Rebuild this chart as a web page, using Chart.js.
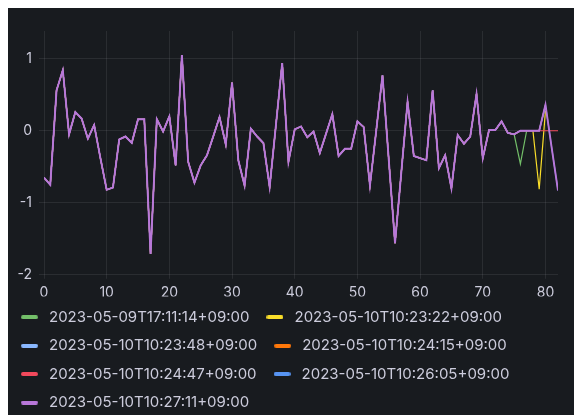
<!DOCTYPE html>
<html>
<head>
<meta charset="utf-8">
<script src="https://cdn.jsdelivr.net/npm/chart.js@4.4.0/dist/chart.umd.min.js"></script>
<style>
  html, body { margin: 0; padding: 0; background: #fff; overflow: hidden; }
  #panel { position: absolute; left: 8px; top: 8px; width: 566px; height: 407px; background: #181b1f; }
  #chart { position: absolute; left: 4px; top: 0; width: 570px; height: 420px; }
</style>
</head>
<body>
<div id="panel"></div>
<canvas id="chart" width="570" height="420"></canvas>
<script>
// x positions (sample index) and tick labels
const xValues = [0, 1, 2, 3, 4, 5, 6, 7, 8, 9, 10, 11, 12, 13, 14, 15, 16, 17, 18, 19,
    20, 21, 22, 23, 24, 25, 26, 27, 28, 29, 30, 31, 32, 33, 34, 35, 36, 37, 38, 39,
    40, 41, 42, 43, 44, 45, 46, 47, 48, 49, 50, 51, 52, 53, 54, 55, 56, 57, 58, 59,
    60, 61, 62, 63, 64, 65, 66, 67, 68, 69, 70, 71, 72, 73, 74, 75, 76, 77, 78, 79,
    80, 81, 82];
const xTicks = [0, 10, 20, 30, 40, 50, 60, 70, 80];
const yTicks = [-2, -1, 0, 1];

// values shared by every series (index 0..74)
const history = [-0.65, -0.75, 0.56, 0.84, -0.05, 0.26, 0.17, -0.11, 0.08, -0.38,
    -0.82, -0.79, -0.12, -0.08, -0.17, 0.16, 0.16, -1.71, 0.16, -0.01,
    0.2, -0.48, 1.05, -0.43, -0.72, -0.48, -0.34, -0.08, 0.19, -0.19,
    0.67, -0.41, -0.76, 0.03, -0.08, -0.17, -0.78, 0.08, 0.94, -0.43,
    0.02, 0.06, -0.09, -0.01, -0.31, -0.04, 0.23, -0.35, -0.25, -0.25,
    0.13, 0.05, -0.76, 0.0, 0.77, -0.4, -1.56, -0.58, 0.4, -0.35,
    -0.38, -0.41, 0.56, -0.52, -0.34, -0.8, -0.06, -0.18, -0.08, 0.51,
    -0.38, 0.01, 0.01, 0.13, -0.03];

// last values of each series (index 75 onward)
const greenTail = [-0.05, -0.46, 0];
const yellowTail = [-0.05, 0, 0, 0, -0.81, 0.28];
const lightBlueTail = [-0.05, 0, 0, 0, 0, 0.34];
const orangeTail = [-0.05, 0, 0, 0, 0, 0.36];
const redTail = [-0.05, 0, 0, 0, 0, 0, 0, 0];
const blueTail = [-0.05, 0, 0, 0, 0, 0.36, -0.24, -0.83];
const purpleTail = [-0.05, 0, 0, 0, 0, 0.36, -0.24, -0.83];

const seriesNames = [
    "2023-05-09T17:11:14+09:00",
    "2023-05-10T10:23:22+09:00",
    "2023-05-10T10:23:48+09:00",
    "2023-05-10T10:24:15+09:00",
    "2023-05-10T10:24:47+09:00",
    "2023-05-10T10:26:05+09:00",
    "2023-05-10T10:27:11+09:00",
];
const seriesColors = ["#73BF69", "#FADE2A", "#8AB8FF", "#FF780A", "#F2495C", "#5794F2", "#B877D9"];
const tails = [greenTail, yellowTail, lightBlueTail, orangeTail, redTail, blueTail, purpleTail];

const gridColor = "rgba(204, 204, 220, 0.1)";
const textColor = "#ccccdc";
const tickFont = { family: "Inter", size: 14 };
const legendFont = { family: "Inter", size: 15 };

// small rounded swatch for the legend
function makeSwatch(color) {
    const c = document.createElement("canvas");
    c.width = 17;
    c.height = 4;
    const g = c.getContext("2d");
    g.fillStyle = color;
    g.beginPath();
    g.roundRect(0, 0, 17, 4, 2);
    g.fill();
    return c;
}
const swatches = seriesColors.map(makeSwatch);

const datasets = seriesNames.map((name, i) => ({
    label: name,
    data: history.concat(tails[i]),
    borderColor: seriesColors[i],
    backgroundColor: seriesColors[i],
    borderWidth: i === seriesNames.length - 1 ? 1.9 : 1.2,
    pointRadius: 0,
    tension: 0,
    order: seriesNames.length - i, // purple on top
}));

new Chart(document.getElementById("chart"), {
    type: "line",
    data: { labels: xValues, datasets: datasets },
    options: {
        responsive: false,
        animation: false,
        layout: { padding: { top: 31, right: 16, left: 0, bottom: 0 } },
        scales: {
            x: {
                type: "linear",
                min: 0,
                max: 82,
                afterBuildTicks: (s) => { s.ticks = xTicks.map((v) => ({ value: v })); },
                afterFit: (s) => { s.height = 21.6; },
                grid: { color: gridColor, tickColor: gridColor, tickLength: 4 },
                border: { display: false },
                ticks: { color: textColor, font: tickFont, padding: 5.6, maxRotation: 0, autoSkip: false },
            },
            y: {
                min: -2,
                max: 1.385,
                afterBuildTicks: (s) => { s.ticks = yTicks.map((v) => ({ value: v })); },
                afterFit: (s) => { s.width = 40; },
                grid: { color: gridColor, tickColor: gridColor, tickLength: 5 },
                border: { display: false },
                ticks: { color: textColor, font: tickFont, padding: 7 },
            },
        },
        plugins: {
            tooltip: { enabled: false },
            legend: {
                position: "bottom",
                align: "start",
                labels: {
                    usePointStyle: true,
                    pointStyleWidth: 24.1,
                    boxHeight: 4,
                    padding: 13.4,
                    color: textColor,
                    font: legendFont,
                    generateLabels: (chart) => chart.data.datasets.map((ds, i) => ({
                        text: ds.label,
                        pointStyle: swatches[i],
                        fillStyle: ds.borderColor,
                        strokeStyle: ds.borderColor,
                        lineWidth: 0,
                        hidden: false,
                        datasetIndex: i,
                        fontColor: textColor,
                    })),
                },
            },
        },
    },
});
</script>
</body>
</html>
